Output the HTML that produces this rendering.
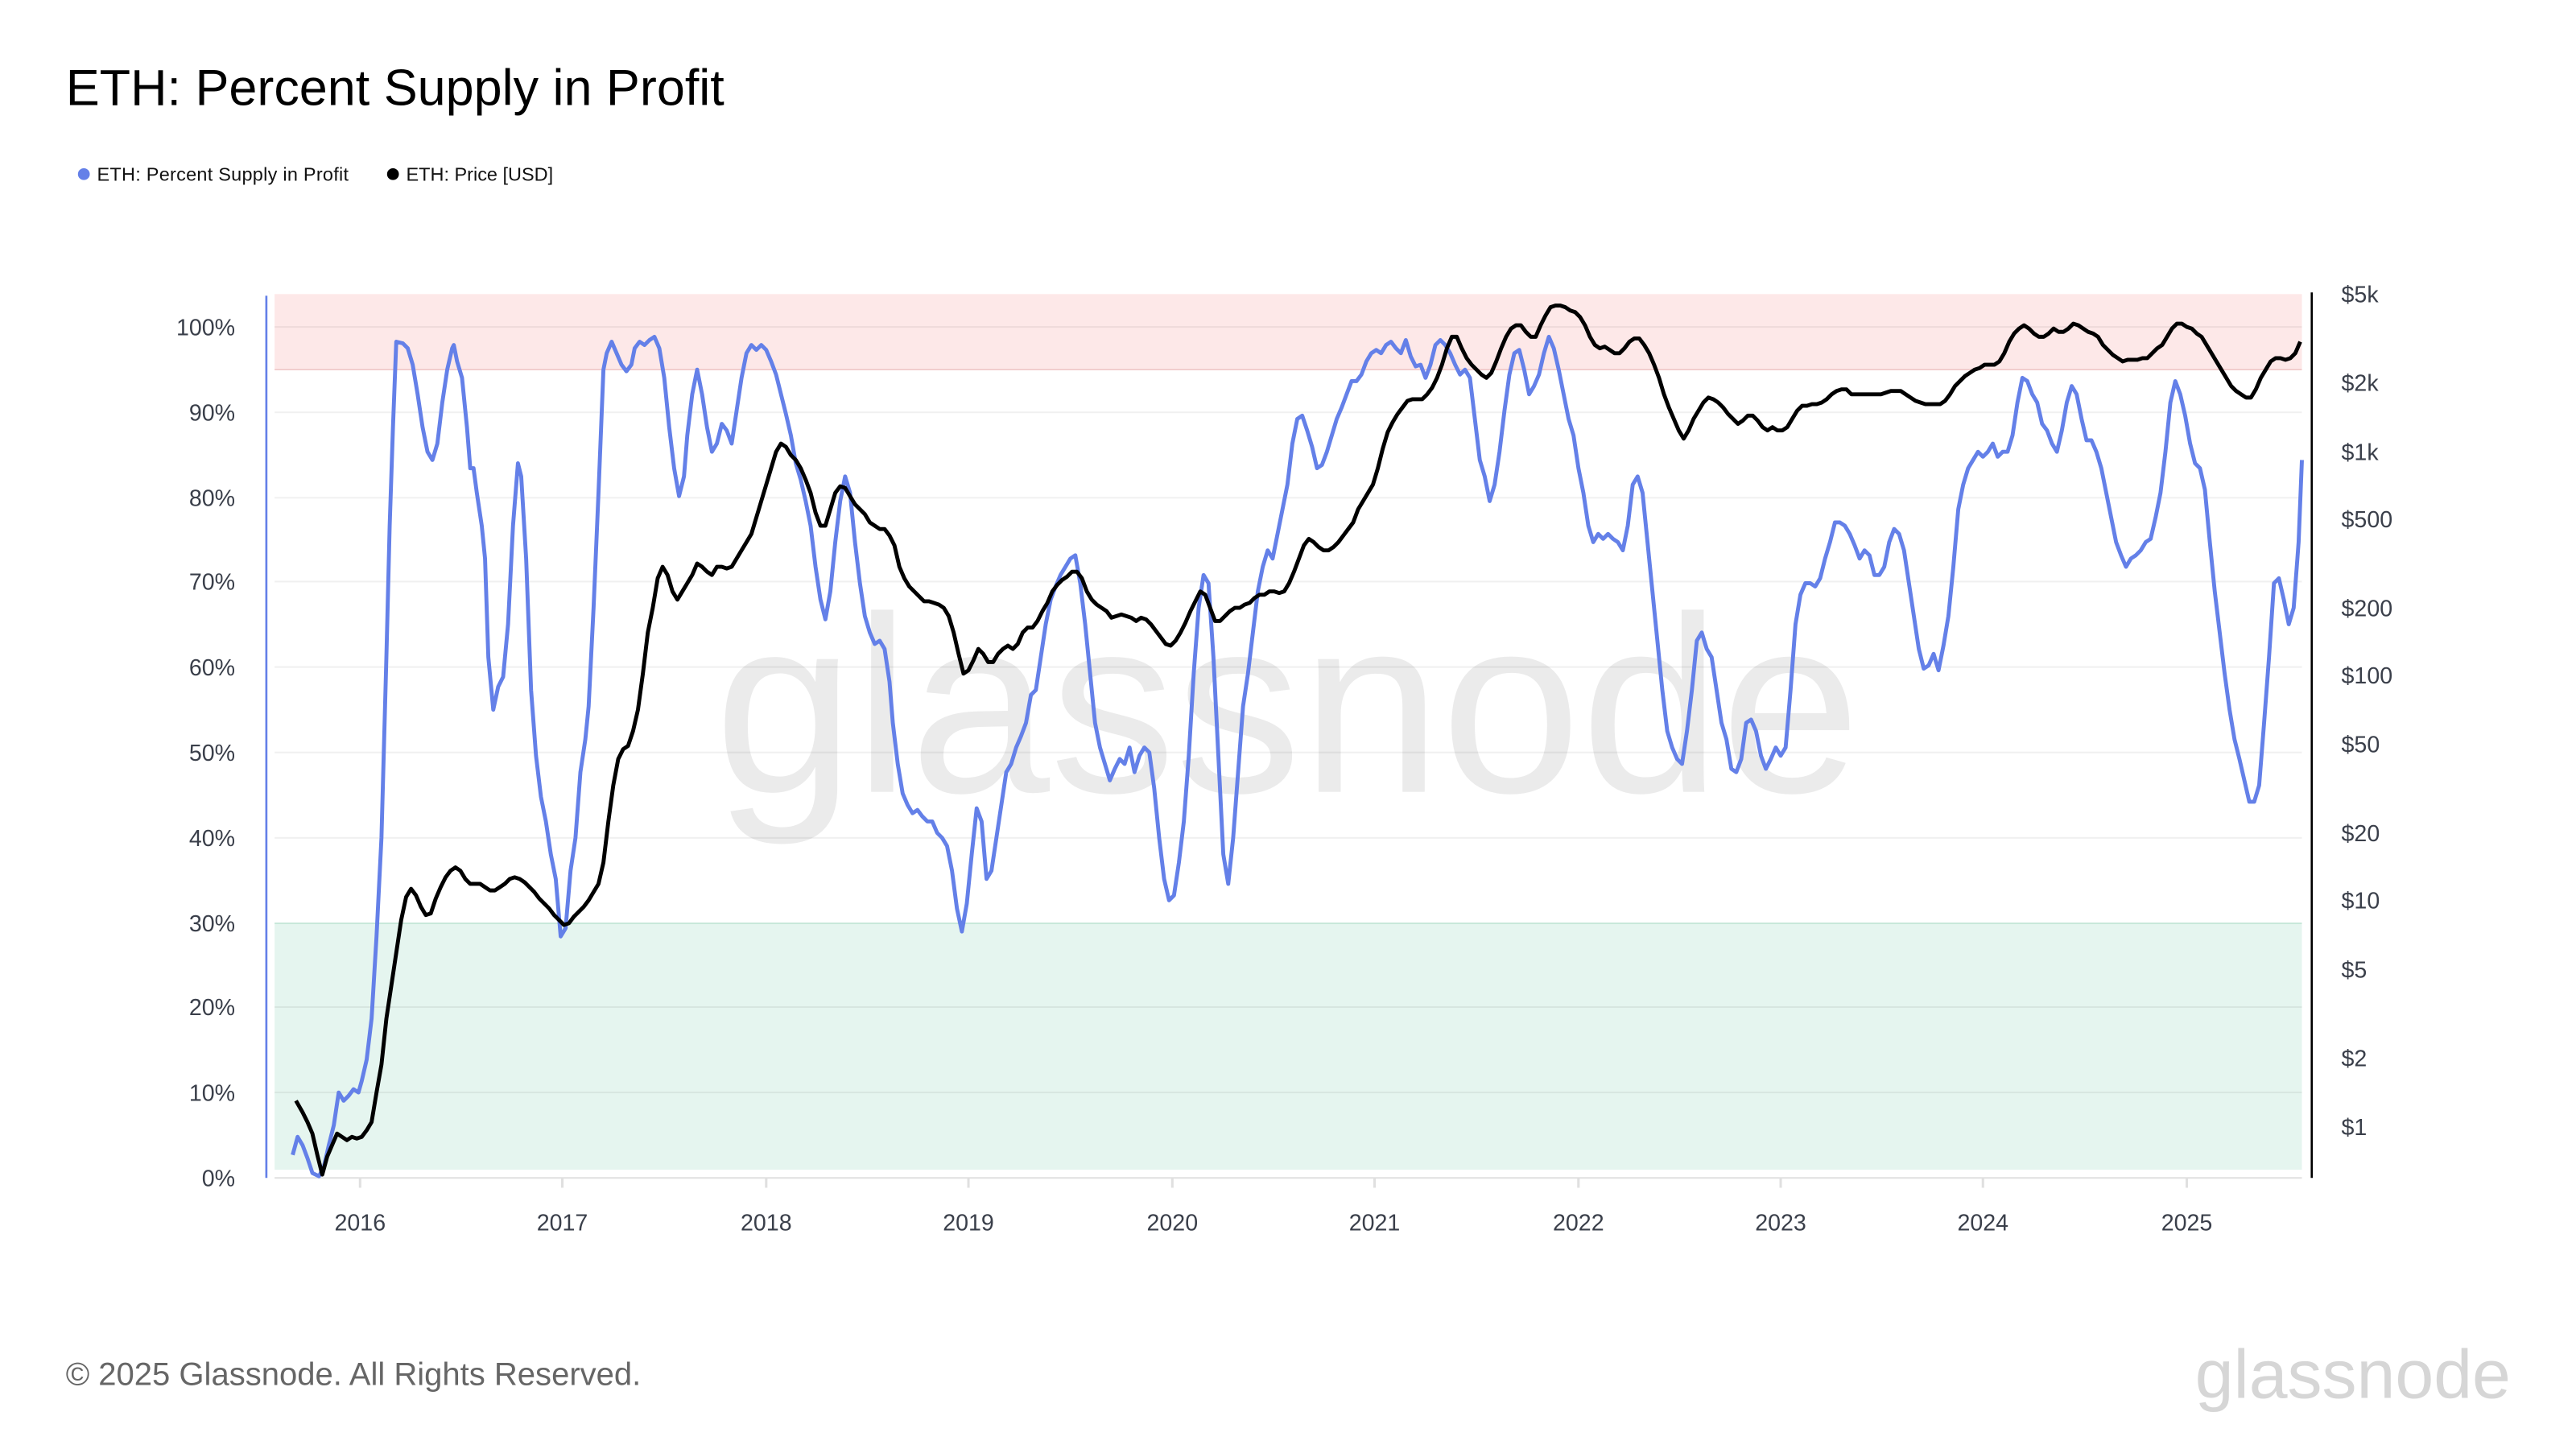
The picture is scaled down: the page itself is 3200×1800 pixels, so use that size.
<!DOCTYPE html>
<html><head><meta charset="utf-8"><style>
html,body{margin:0;padding:0;background:#fff;width:3200px;height:1800px;overflow:hidden}
svg{display:block}
text{font-family:"Liberation Sans",Arial,sans-serif}
</style></head><body>
<svg width="3200" height="1800" viewBox="0 0 1566.7 882" preserveAspectRatio="none" xmlns="http://www.w3.org/2000/svg">
<text x="40" y="64" font-size="30.8" fill="#000">ETH: Percent Supply in Profit</text>
<circle cx="51" cy="106" r="3.6" fill="#6480e8"/>
<text x="59" y="110" font-size="11.5" fill="#111" textLength="153">ETH: Percent Supply in Profit</text>
<circle cx="239" cy="106" r="3.6" fill="#000"/>
<text x="247" y="110" font-size="11.5" fill="#111">ETH: Price [USD]</text>

<text x="783" y="482" font-size="153" fill="#ebebeb" text-anchor="middle" textLength="697" lengthAdjust="spacingAndGlyphs">glassnode</text>

<rect x="167" y="179" width="1233" height="46" fill="#fde8e8"/>
<line x1="167" y1="225" x2="1400" y2="225" stroke="#f0c8c8" stroke-width="0.8"/>
<rect x="167" y="562" width="1233" height="150" fill="#e5f5ef"/>
<line x1="167" y1="562" x2="1400" y2="562" stroke="#bfe3d4" stroke-width="0.8"/>
<g stroke="#000" stroke-opacity="0.06" stroke-width="1">
<line x1="167" y1="199" x2="1400" y2="199"/><line x1="167" y1="251" x2="1400" y2="251"/>
<line x1="167" y1="303" x2="1400" y2="303"/><line x1="167" y1="354" x2="1400" y2="354"/>
<line x1="167" y1="406" x2="1400" y2="406"/><line x1="167" y1="458" x2="1400" y2="458"/>
<line x1="167" y1="510" x2="1400" y2="510"/><line x1="167" y1="613" x2="1400" y2="613"/>
<line x1="167" y1="665" x2="1400" y2="665"/>
</g>
<line x1="167" y1="717" x2="1400" y2="717" stroke="#e0e0e0" stroke-width="1"/>
<g stroke="#e0e0e0" stroke-width="1.5">
<line x1="219" y1="717" x2="219" y2="723"/><line x1="342" y1="717" x2="342" y2="723"/><line x1="466" y1="717" x2="466" y2="723"/><line x1="589" y1="717" x2="589" y2="723"/><line x1="713" y1="717" x2="713" y2="723"/><line x1="836" y1="717" x2="836" y2="723"/><line x1="960" y1="717" x2="960" y2="723"/><line x1="1083" y1="717" x2="1083" y2="723"/><line x1="1206" y1="717" x2="1206" y2="723"/><line x1="1330" y1="717" x2="1330" y2="723"/>
</g>
<line x1="162" y1="180" x2="162" y2="717" stroke="#6480e8" stroke-width="1.3"/>
<line x1="1406" y1="178" x2="1406" y2="717" stroke="#000" stroke-width="1.3"/>

<g font-size="14" fill="#3a3f4a" text-anchor="end">
<text x="143" y="204">100%</text><text x="143" y="256">90%</text><text x="143" y="308">80%</text><text x="143" y="359">70%</text><text x="143" y="411">60%</text><text x="143" y="463">50%</text><text x="143" y="515">40%</text><text x="143" y="567">30%</text><text x="143" y="618">20%</text><text x="143" y="670">10%</text><text x="143" y="722">0%</text>
</g>
<g font-size="14" fill="#3a3f4a">
<text x="1424" y="184">$5k</text><text x="1424" y="238">$2k</text><text x="1424" y="280">$1k</text><text x="1424" y="321">$500</text><text x="1424" y="375">$200</text><text x="1424" y="416">$100</text><text x="1424" y="458">$50</text><text x="1424" y="512">$20</text><text x="1424" y="553">$10</text><text x="1424" y="595">$5</text><text x="1424" y="649">$2</text><text x="1424" y="691">$1</text>
</g>
<g font-size="14" fill="#3a3f4a" text-anchor="middle">
<text x="219" y="749">2016</text><text x="342" y="749">2017</text><text x="466" y="749">2018</text><text x="589" y="749">2019</text><text x="713" y="749">2020</text><text x="836" y="749">2021</text><text x="960" y="749">2022</text><text x="1083" y="749">2023</text><text x="1206" y="749">2024</text><text x="1330" y="749">2025</text>
</g>

<polyline fill="none" stroke="#6480e8" stroke-width="2.4" stroke-linejoin="round" points="178,703 181,692 184,697 187,705 190,714 194,716 197,710 200,697 203,685 206,665 209,670 212,667 215,663 218,665 220,658 223,645 226,620 229,570 232,510 235,400 237,320 239,260 241,208 245,209 248,212 251,222 254,240 257,260 260,275 263,280 266,270 269,245 272,225 275,212 276,210 278,220 281,230 284,260 286,285 288,285 290,300 293,320 295,340 297,400 300,432 303,418 306,412 309,380 312,320 315,282 317,290 320,340 323,420 326,460 329,485 332,500 335,520 338,535 341,570 344,565 347,530 350,510 353,470 356,450 358,430 361,370 364,300 367,225 369,215 372,208 375,215 378,222 381,226 384,222 386,212 389,208 392,210 395,207 398,205 401,212 404,230 407,260 410,285 413,302 416,290 418,265 421,240 424,225 427,240 430,260 433,275 436,270 439,258 442,262 445,270 448,250 451,230 454,215 457,210 460,213 463,210 466,213 469,220 472,228 475,240 478,252 481,265 484,282 487,292 490,305 493,320 496,345 499,365 502,377 505,360 508,330 511,305 514,290 517,300 520,330 523,355 526,375 529,385 532,392 535,390 538,395 541,415 543,440 546,465 549,483 552,490 555,495 558,493 561,497 564,500 567,500 570,507 573,510 576,515 579,530 582,553 585,567 588,550 591,520 594,492 597,500 600,535 603,530 606,510 609,490 612,470 615,465 618,455 621,448 624,440 627,423 630,420 633,400 636,380 639,365 642,357 645,350 648,345 651,340 654,338 657,355 660,380 663,410 666,440 669,455 672,465 675,475 678,468 681,462 684,465 687,455 690,470 693,460 696,455 699,458 702,480 705,510 708,535 711,548 714,545 717,525 720,500 723,460 726,410 729,370 732,350 735,355 738,400 741,460 744,520 747,538 750,510 753,470 756,430 759,410 762,385 765,360 768,345 771,335 774,340 777,325 780,310 783,295 786,270 789,255 792,253 795,262 798,272 801,285 804,283 807,275 810,265 813,255 816,248 819,240 822,232 825,232 828,228 831,220 834,215 837,213 840,215 843,210 846,208 849,212 852,215 855,207 858,217 861,223 864,222 867,230 870,222 873,210 876,207 879,210 882,215 885,222 888,228 891,225 894,230 897,255 900,280 903,290 906,305 909,295 912,275 915,250 918,228 921,215 924,213 927,225 930,240 933,235 936,228 939,215 942,205 945,212 948,225 951,240 954,255 957,265 960,285 963,300 966,320 969,330 972,325 975,328 978,325 981,328 984,330 987,335 990,320 993,295 996,290 999,300 1002,330 1005,360 1008,390 1011,420 1014,445 1017,455 1020,462 1023,465 1026,445 1029,420 1032,390 1035,385 1038,395 1041,400 1044,420 1047,440 1050,450 1053,468 1056,470 1059,462 1062,440 1065,438 1068,445 1071,460 1074,468 1077,462 1080,455 1083,460 1086,455 1089,420 1092,380 1095,362 1098,355 1101,355 1104,357 1107,352 1110,340 1113,330 1116,318 1119,318 1122,320 1125,325 1128,332 1131,340 1134,335 1137,338 1140,350 1143,350 1146,345 1149,330 1152,322 1155,325 1158,335 1161,355 1164,375 1167,395 1170,407 1173,405 1176,398 1179,408 1182,393 1185,375 1188,345 1191,310 1194,295 1197,285 1200,280 1203,275 1206,278 1209,275 1212,270 1215,278 1218,275 1221,275 1224,265 1227,245 1230,230 1233,232 1236,240 1239,245 1242,258 1245,262 1248,270 1251,275 1254,262 1257,245 1260,235 1263,240 1266,255 1269,268 1272,268 1275,275 1278,285 1281,300 1284,315 1287,330 1290,338 1293,345 1296,340 1299,338 1302,335 1305,330 1308,328 1311,315 1314,300 1317,275 1320,245 1323,232 1326,240 1329,253 1332,270 1335,282 1338,285 1341,298 1344,330 1347,360 1350,385 1353,410 1356,432 1359,450 1362,462 1365,475 1368,488 1371,488 1374,478 1377,440 1380,400 1383,355 1386,352 1389,365 1392,380 1395,370 1398,330 1400,280"/>

<polyline fill="none" stroke="#000" stroke-width="2.4" stroke-linejoin="round" points="180,670 184,677 187,683 190,690 193,703 196,715 199,704 202,697 205,690 208,692 211,694 214,692 217,693 220,692 223,688 226,683 229,665 232,648 235,620 238,600 241,580 244,560 247,546 250,541 253,545 256,552 259,557 262,556 265,547 268,540 271,534 274,530 277,528 280,530 283,535 286,538 289,538 292,538 295,540 298,542 301,542 304,540 307,538 310,535 313,534 316,535 319,537 322,540 325,543 328,547 331,550 334,553 337,557 340,560 343,563 346,562 349,558 352,555 355,552 358,548 361,543 364,538 367,525 370,500 373,478 376,462 379,456 382,454 385,445 388,432 391,410 394,385 397,370 400,352 403,345 406,350 409,360 412,365 415,360 418,355 421,350 424,343 427,345 430,348 433,350 436,345 439,345 442,346 445,345 448,340 451,335 454,330 457,325 460,315 463,305 466,295 469,285 472,275 475,270 478,272 481,277 484,280 487,285 490,292 493,300 496,312 499,320 502,320 505,310 508,300 511,296 514,297 517,302 520,307 523,310 526,313 529,318 532,320 535,322 538,322 541,326 544,332 547,345 550,352 553,357 556,360 559,363 562,366 565,366 568,367 571,368 574,370 577,375 580,385 583,398 586,410 589,408 592,402 595,395 598,398 601,403 604,403 607,398 610,395 613,393 616,395 619,392 622,385 625,382 628,382 631,378 634,372 637,367 640,360 643,356 646,353 649,351 652,348 655,348 658,352 661,360 664,365 667,368 670,370 673,372 676,376 679,375 682,374 685,375 688,376 691,378 694,376 697,377 700,380 703,384 706,388 709,392 712,393 715,390 718,385 721,379 724,372 727,366 730,360 733,362 736,370 739,378 742,378 745,375 748,372 751,370 754,370 757,368 760,367 763,364 766,362 769,362 772,360 775,360 778,361 781,360 784,355 787,348 790,340 793,332 796,328 799,330 802,333 805,335 808,335 811,333 814,330 817,326 820,322 823,318 826,310 829,305 832,300 835,295 838,285 841,273 844,263 847,257 850,252 853,248 856,244 859,243 862,243 865,243 868,240 871,236 874,230 877,222 880,212 883,205 886,205 889,212 892,218 895,222 898,225 901,228 904,230 907,227 910,220 913,212 916,205 919,200 922,198 925,198 928,202 931,205 934,205 937,198 940,192 943,187 946,186 949,186 952,187 955,189 958,190 961,193 964,198 967,205 970,210 973,212 976,211 979,213 982,215 985,215 988,212 991,208 994,206 997,206 1000,210 1003,215 1006,222 1009,230 1012,240 1015,248 1018,255 1021,262 1024,267 1027,262 1030,255 1033,250 1036,245 1039,242 1042,243 1045,245 1048,248 1051,252 1054,255 1057,258 1060,256 1063,253 1066,253 1069,256 1072,260 1075,262 1078,260 1081,262 1084,262 1087,260 1090,255 1093,250 1096,247 1099,247 1102,246 1105,246 1108,245 1111,243 1114,240 1117,238 1120,237 1123,237 1126,240 1129,240 1132,240 1135,240 1138,240 1141,240 1144,240 1147,239 1150,238 1153,238 1156,238 1159,240 1162,242 1165,244 1168,245 1171,246 1174,246 1177,246 1180,246 1183,244 1186,240 1189,235 1192,232 1195,229 1198,227 1201,225 1204,224 1207,222 1210,222 1213,222 1216,220 1219,215 1222,208 1225,203 1228,200 1231,198 1234,200 1237,203 1240,205 1243,205 1246,203 1249,200 1252,202 1255,202 1258,200 1261,197 1264,198 1267,200 1270,202 1273,203 1276,205 1279,210 1282,213 1285,216 1288,218 1291,220 1294,219 1297,219 1300,219 1303,218 1306,218 1309,215 1312,212 1315,210 1318,205 1321,200 1324,197 1327,197 1330,199 1333,200 1336,203 1339,205 1342,210 1345,215 1348,220 1351,225 1354,230 1357,235 1360,238 1363,240 1366,242 1369,242 1372,237 1375,230 1378,225 1381,220 1384,218 1387,218 1390,219 1393,218 1396,215 1399,208"/>

<text x="40" y="843" font-size="19.6" fill="#666">© 2025 Glassnode. All Rights Reserved.</text>
<text x="1335" y="851" font-size="42" fill="#d6d6d6" textLength="192" lengthAdjust="spacingAndGlyphs">glassnode</text>
</svg>
</body></html>
